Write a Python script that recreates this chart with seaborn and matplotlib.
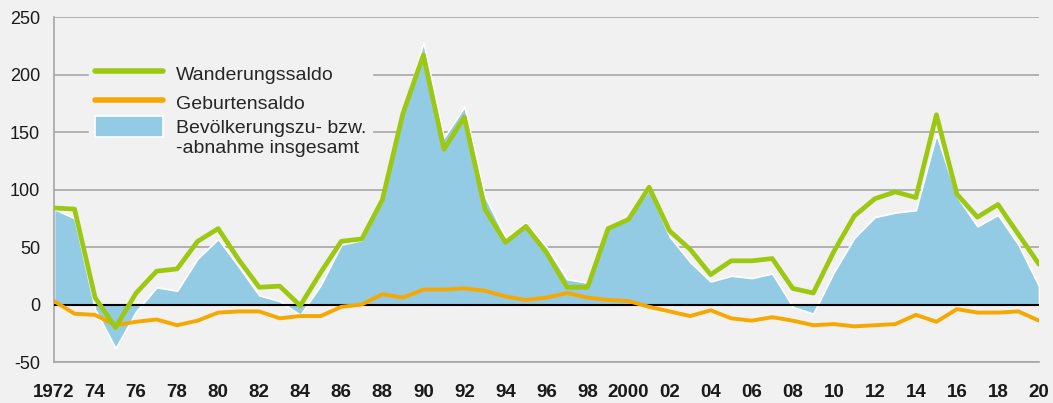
import numpy as np
import matplotlib
matplotlib.use('Agg')
import matplotlib.pyplot as plt
import matplotlib.patches as mpatches
from matplotlib.legend_handler import HandlerPatch
import pandas as pd
import seaborn as sns

# Jahre 1972 - 2020, Werte in Tausend
years = list(range(1972, 2021))

wanderung = [84, 83, 6, -20, 10, 29, 31, 55, 66, 39, 15, 16, -1, 28, 55,
             57, 91, 166, 217, 135, 163, 83, 54, 68, 45, 15, 15, 66, 74, 102,
             64, 48, 26, 38, 38, 40, 14, 10, 46, 77, 92, 98, 93, 165, 96,
             76, 87, 61, 35]

geburten = [3, -8, -9, -18, -15, -13, -18, -14, -7, -6, -6, -12, -10, -10, -2,
            0, 9, 6, 13, 13, 14, 12, 7, 4, 6, 10, 6, 4, 3, -2,
            -6, -10, -5, -12, -14, -11, -14, -18, -17, -19, -18, -17, -9, -15, -4,
            -7, -7, -6, -14]

insgesamt = [83, 75, -4, -38, -6, 15, 12, 40, 57, 33, 8, 3, -9, 17, 52,
             56, 90, 166, 228, 145, 172, 94, 58, 71, 50, 22, 19, 68, 75, 100,
             59, 37, 20, 25, 23, 27, -2, -8, 28, 58, 76, 80, 82, 148, 94,
             68, 78, 52, 16]

tick_labels = ['1972', '', '74', '', '76', '', '78', '', '80', '', '82', '', '84', '', '86',
               '', '88', '', '90', '', '92', '', '94', '', '96', '', '98', '', '2000', '',
               '02', '', '04', '', '06', '', '08', '', '10', '', '12', '', '14', '', '16',
               '', '18', '', '20']

df = pd.DataFrame({'Jahr': years, 'Wanderungssaldo': wanderung,
                   'Geburtensaldo': geburten, 'Insgesamt': insgesamt})

bg = '#f1f1f1'
green = '#9cc811'
orange = '#f6a800'
blue = '#93cbe5'
grey = '#a6a6a6'

sns.set_style('white', {'axes.facecolor': bg, 'figure.facecolor': bg})
plt.rcParams['font.family'] = ['Liberation Sans', 'DejaVu Sans']

fig = plt.figure(figsize=(10.53, 4.03), dpi=100)
ax = fig.add_axes([0.0513, 0.1017, 0.9354, 0.856])

# Flaeche Bevoelkerungszu- bzw. -abnahme
ax.fill_between(df['Jahr'], df['Insgesamt'], 0, facecolor=blue,
                edgecolor='white', linewidth=1.2, zorder=2)

sns.lineplot(data=df, x='Jahr', y='Geburtensaldo', color=orange, linewidth=2.8,
             ax=ax, zorder=4, label='Geburtensaldo')
sns.lineplot(data=df, x='Jahr', y='Wanderungssaldo', color=green, linewidth=3.4,
             ax=ax, zorder=5, label='Wanderungssaldo')

ax.axhline(0, color='black', linewidth=1.5, zorder=3)

ax.set_xlim(1972, 2020)
ax.set_ylim(-50, 250)
ax.set_yticks([-50, 0, 50, 100, 150, 200, 250])
ax.set_yticklabels(['-50', '0', '50', '100', '150', '200', '250'])
ax.set_xticks(years)
ax.set_xticklabels(tick_labels, fontweight='bold')
ax.set_xlabel('')
ax.set_ylabel('')

ax.grid(axis='y', color=grey, linewidth=1.2, zorder=1)
ax.set_axisbelow(True)
for s in ['top', 'right']:
    ax.spines[s].set_visible(False)
ax.spines['left'].set_color(grey)
ax.spines['left'].set_linewidth(1.2)
ax.spines['bottom'].set_color(grey)
ax.spines['bottom'].set_linewidth(1.2)
ax.tick_params(axis='both', direction='out', length=6, width=1.2, color=grey,
               labelsize=13, labelcolor='#1a1a1a', pad=4)
ax.tick_params(axis='x', labelsize=13.5, pad=10)


# patch in der Legende an der ersten Textzeile ausrichten
def top_patch(legend, orig_handle, xdescent, ydescent, width, height, fontsize):
    return mpatches.Rectangle((-xdescent, -ydescent + 0.65 * fontsize), width, height)


handles, labels = ax.get_legend_handles_labels()
area_patch = mpatches.Patch(facecolor=blue, edgecolor='white', linewidth=1.2)
leg_handles = [handles[labels.index('Wanderungssaldo')],
               handles[labels.index('Geburtensaldo')], area_patch]
leg_labels = ['Wanderungssaldo', 'Geburtensaldo',
              'Bevölkerungszu- bzw.\n-abnahme insgesamt']
leg = ax.legend(leg_handles, leg_labels,
                loc='upper left', bbox_to_anchor=(0.0355, 0.885), frameon=True,
                facecolor=bg, edgecolor=bg, framealpha=1, fontsize=14,
                handlelength=3.5, handleheight=1.3, handletextpad=0.65,
                labelspacing=0.4, borderpad=0.3, borderaxespad=0,
                fancybox=False,
                handler_map={mpatches.Patch: HandlerPatch(patch_func=top_patch)})
for line in leg.get_lines():
    line.set_linewidth(4)
leg.set_zorder(6)

fig.savefig('out.png', dpi=100, facecolor=bg)
